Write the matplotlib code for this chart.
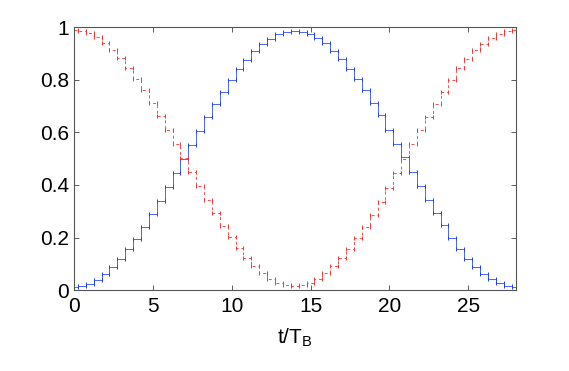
import numpy as np
import matplotlib
matplotlib.use("Agg")
import matplotlib.pyplot as plt

# time grid (units of Bloch period), plateau centres every half period
t = np.arange(0, 28.5, 0.5)

# population in the upper band (blue, solid)
blue = [0.012, 0.015, 0.024, 0.039, 0.060, 0.087, 0.118, 0.155, 0.196, 0.240,
        0.288, 0.339, 0.391, 0.445, 0.498, 0.552, 0.606, 0.658, 0.707, 0.755,
        0.799, 0.840, 0.876, 0.908, 0.935, 0.956, 0.972, 0.981, 0.985, 0.982,
        0.975, 0.959, 0.938, 0.910, 0.877, 0.842, 0.802, 0.759, 0.712, 0.664,
        0.610, 0.557, 0.506, 0.450, 0.395, 0.343, 0.294, 0.247, 0.198, 0.156,
        0.120, 0.089, 0.063, 0.041, 0.026, 0.016, 0.011]

# population in the lower band (red, dashed)
red = [0.988, 0.985, 0.976, 0.961, 0.940, 0.913, 0.882, 0.845, 0.804, 0.760,
       0.712, 0.661, 0.609, 0.555, 0.502, 0.448, 0.394, 0.342, 0.293, 0.245,
       0.201, 0.160, 0.124, 0.092, 0.065, 0.044, 0.028, 0.019, 0.015, 0.019,
       0.027, 0.043, 0.064, 0.091, 0.123, 0.158, 0.197, 0.241, 0.287, 0.336,
       0.389, 0.446, 0.497, 0.554, 0.607, 0.659, 0.707, 0.754, 0.800, 0.844,
       0.880, 0.912, 0.937, 0.958, 0.975, 0.984, 0.988]

xticks = [0, 5, 10, 15, 20, 25]
yticks = [0, 0.2, 0.4, 0.6, 0.8, 1]
ytick_labels = ["0", "0.2", "0.4", "0.6", "0.8", "1"]

plt.rcParams["font.family"] = ["Liberation Sans", "DejaVu Sans"]
plt.rcParams["mathtext.fontset"] = "custom"
plt.rcParams["mathtext.rm"] = "Liberation Sans"
plt.rcParams["mathtext.it"] = "Liberation Sans:italic"

fig = plt.figure(figsize=(5.69, 3.71), dpi=100)
ax = fig.add_axes([0.130, 0.218, 0.776, 0.709])

t_jump = (t[:-1] + t[1:]) / 2
blue = np.array(blue)
red = np.array(red)

# staircase curves
ax.step(t, blue, where="mid", color="#4a66ff", lw=0.7)
ax.step(t, red, where="mid", color="#ff4a4a", lw=0.7, linestyle=(0, (3, 3)))

# small transient ticks at every jump
for y, c in [(blue, "#2040ff"), (red, "#ff3030")]:
    ax.plot(t_jump, y[:-1], ls="none", marker="|", ms=3, mew=0.7, color=c)
    ax.plot(t_jump, y[1:], ls="none", marker="|", ms=3, mew=0.7, color=c)

ax.set_xlim(0, 28)
ax.set_ylim(0, 1)
ax.set_xticks(xticks)
ax.set_yticks(yticks)
ax.set_yticklabels(ytick_labels)
ax.tick_params(direction="in", length=3.5, width=0.6, labelsize=15,
               top=True, right=True, colors="#444444", labelcolor="black")
ax.tick_params(axis="x", pad=5)
for s in ax.spines.values():
    s.set_color("#555555")
    s.set_linewidth(0.8)

ax.set_xlabel(r"t/T$_{\mathrm{B}}$", fontsize=15, labelpad=8)

fig.savefig("out.png", dpi=100)
